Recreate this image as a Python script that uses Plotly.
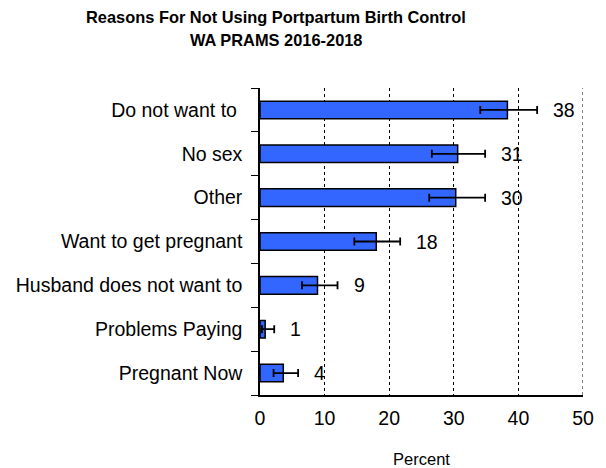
import plotly.graph_objects as go

categories = ["Pregnant Now", "Problems Paying", "Husband does not want to",
              "Want to get pregnant", "Other", "No sex", "Do not want to "]
values = [3.6, 0.8, 8.9, 18.0, 30.3, 30.6, 38.3]
ci_low = [2.1, 0.3, 6.5, 14.6, 26.2, 26.6, 34.1]
ci_high = [5.9, 2.2, 12.0, 21.7, 34.85, 34.85, 42.9]
labels = ["4", "1", "9", "18", "30", "31", "38"]
x_ticks = [0, 10, 20, 30, 40, 50]
title_lines = ["Reasons For Not Using Portpartum Birth Control", "WA PRAMS 2016-2018"]

FONT = "Liberation Sans, Arial, sans-serif"

err_plus = [h - v for h, v in zip(ci_high, values)]
err_minus = [v - l for v, l in zip(values, ci_low)]

fig = go.Figure()
fig.add_trace(go.Bar(
    y=categories, x=values, orientation="h",
    marker=dict(color="#3366FF", line=dict(color="black", width=1.5)),
    error_x=dict(type="data", symmetric=False, array=err_plus, arrayminus=err_minus,
                 color="black", thickness=1.8, width=4),
    hoverinfo="skip",
))

for c, h, t in zip(categories, ci_high, labels):
    fig.add_annotation(x=h, y=c, text=t, showarrow=False, xanchor="left",
                       xshift=14, font=dict(family=FONT, size=19.5, color="black"))

# title lines (plot area: top 88px, height 307px)
for line, ypx in zip(title_lines, [17, 40]):
    fig.add_annotation(xref="paper", yref="paper", x=(275.5 - 260) / 323, y=(395 - ypx) / 307,
                       text="<b>" + line + "</b>", showarrow=False,
                       xanchor="center", yanchor="middle",
                       font=dict(family=FONT, size=16.4, color="black"))

# dotted gridline at right edge (x = 50)
fig.add_shape(type="line", xref="x", yref="paper", x0=50, x1=50, y0=0, y1=1,
              line=dict(color="black", width=1, dash="dot"))

fig.update_layout(
    width=606, height=468,
    margin=dict(l=260, r=23, t=88, b=73),
    paper_bgcolor="white", plot_bgcolor="white",
    bargap=0.6,
    showlegend=False,
)
fig.update_xaxes(
    range=[0, 50], tickvals=x_ticks, ticktext=[str(v) for v in x_ticks],
    showgrid=True, gridcolor="black", griddash="dot", gridwidth=1,
    showline=True, linecolor="black", linewidth=1.5,
    ticks="", zeroline=False, ticklabelstandoff=5, automargin=False,
    tickfont=dict(family=FONT, size=19.5, color="black"),
    title=dict(text="Percent", font=dict(family=FONT, size=16.5, color="black"), standoff=26),
)
fig.update_yaxes(
    categoryorder="array", categoryarray=categories,
    showline=True, linecolor="black", linewidth=1.5,
    ticks="outside", ticklen=7, tickcolor="black", tickwidth=1, tickson="boundaries",
    ticklabelstandoff=12, automargin=False,
    tickfont=dict(family=FONT, size=19.5, color="black"),
    showgrid=False,
)

fig.write_html("out.html")
